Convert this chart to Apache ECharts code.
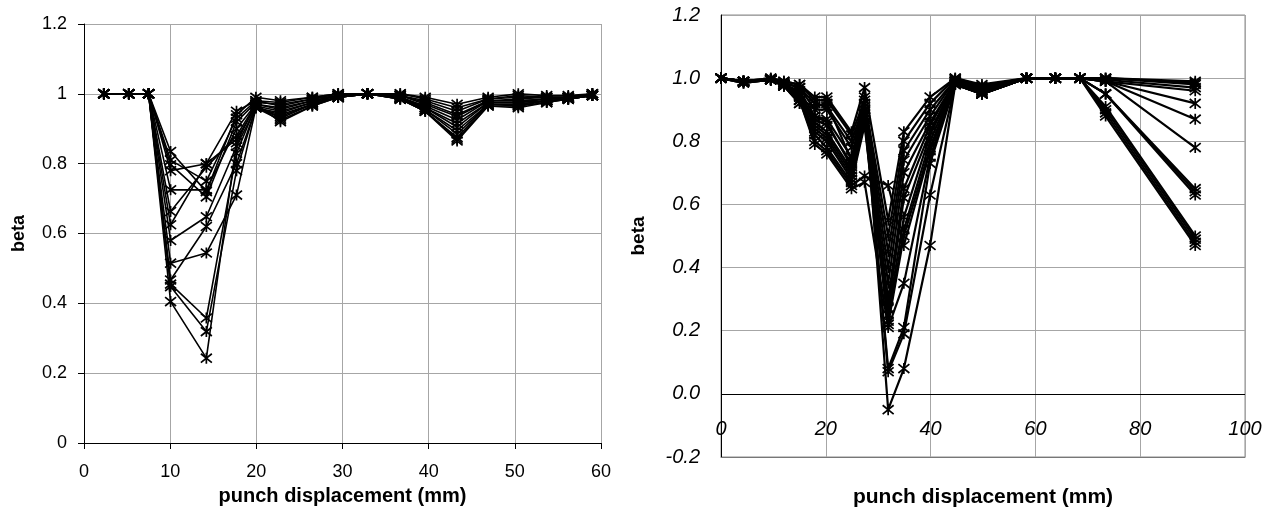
<!DOCTYPE html>
<html>
<head>
<meta charset="utf-8">
<script src="https://cdn.jsdelivr.net/npm/echarts@6/dist/echarts.min.js"></script>
<style>
html,body{margin:0;padding:0;background:#fff;}
#c{width:1279px;height:513px;}
</style>
</head>
<body>
<div id="c"></div>
<script>
// ---------- data ----------
const leftX = [2.3, 5.2, 7.5, 10.05, 14.2, 17.7, 19.95, 22.8, 26.5, 29.5, 32.9, 36.7, 39.6, 43.3, 46.9, 50.4, 53.7, 56.2, 59.0];
const L01 = [1,1,1,0.835,0.72,0.94,0.99,0.98,0.99,1.0,1.0,1.0,0.99,0.97,0.99,1.0,0.995,0.995,1.0];
const L02 = [1,1,1,0.81,0.75,0.93,0.98,0.975,0.99,1.0,1.0,1.0,0.985,0.96,0.985,0.995,0.99,0.99,1.0];
const L03 = [1,1,1,0.797,0.705,0.92,0.975,0.97,0.985,1.0,1.0,0.995,0.98,0.95,0.985,0.99,0.99,0.99,1.0];
const L04 = [1,1,1,0.78,0.80,0.95,0.98,0.965,0.985,0.995,1.0,0.995,0.975,0.94,0.98,0.985,0.99,0.99,1.0];
const L05 = [1,1,1,0.725,0.725,0.90,0.97,0.96,0.98,0.995,1.0,0.995,0.97,0.935,0.98,0.98,0.985,0.99,1.0];
const L06 = [1,1,1,0.663,0.79,0.88,0.97,0.955,0.98,0.995,1.0,0.99,0.965,0.925,0.98,0.98,0.985,0.99,0.995];
const L07 = [1,1,1,0.625,0.80,0.87,0.965,0.95,0.975,0.995,1.0,0.99,0.96,0.915,0.975,0.975,0.985,0.99,0.995];
const L08 = [1,1,1,0.58,0.648,0.85,0.96,0.945,0.975,0.99,1.0,0.99,0.96,0.905,0.975,0.975,0.98,0.985,0.995];
const L09 = [1,1,1,0.515,0.544,0.71,0.96,0.94,0.97,0.99,1.0,0.99,0.955,0.895,0.97,0.97,0.98,0.985,0.995];
const L10 = [1,1,1,0.467,0.62,0.80,0.96,0.935,0.97,0.99,1.0,0.985,0.955,0.885,0.97,0.97,0.98,0.985,0.995];
const L11 = [1,1,1,0.455,0.358,0.83,0.965,0.93,0.97,0.99,1.0,0.985,0.95,0.875,0.97,0.965,0.98,0.985,0.995];
const L12 = [1,1,1,0.448,0.319,0.78,0.96,0.925,0.965,0.99,1.0,0.985,0.95,0.87,0.965,0.965,0.975,0.985,0.995];
const L13 = [1,1,1,0.405,0.243,0.86,0.97,0.92,0.965,0.99,1.0,0.985,0.95,0.865,0.965,0.96,0.975,0.985,0.995];
const leftSeries = [L01,L02,L03,L04,L05,L06,L07,L08,L09,L10,L11,L12,L13];

const rightX = [0, 4.3, 9.5, 12, 15, 17.9, 20.2, 24.9, 27.4, 31.9, 34.9, 39.9, 44.7, 49.8, 58.3, 63.8, 68.5, 73.4, 90.5];
const R01 = [1,0.99,1,0.99,0.98,0.94,0.94,0.83,0.97,0.55,0.83,0.94,1.0,0.98,1,1,1,1.0,0.99];
const R02 = [1,0.99,1,0.99,0.98,0.93,0.93,0.82,0.93,0.50,0.80,0.92,1.0,0.975,1,1,1,1.0,0.985];
const R03 = [1,0.99,0.995,0.985,0.97,0.92,0.91,0.80,0.92,0.45,0.77,0.90,0.995,0.97,1,1,1,1.0,0.98];
const R04 = [1,0.985,0.995,0.985,0.97,0.90,0.90,0.78,0.91,0.40,0.74,0.88,0.995,0.97,1,1,1,0.995,0.97];
const R05 = [1,0.985,0.995,0.98,0.96,0.88,0.87,0.75,0.90,0.35,0.70,0.86,0.99,0.965,1,1,1,0.99,0.96];
const R06 = [1,0.985,0.995,0.98,0.95,0.87,0.85,0.73,0.89,0.30,0.65,0.85,0.99,0.96,1,1,1,0.99,0.92];
const R07 = [1,0.99,0.995,0.98,0.95,0.86,0.83,0.71,0.88,0.27,0.62,0.83,0.99,0.96,1,1,1,0.99,0.87];
const R08 = [1,0.99,0.995,0.98,0.94,0.85,0.82,0.70,0.87,0.25,0.56,0.82,0.985,0.955,1,1,1,0.99,0.78];
const R09 = [1,0.99,0.995,0.98,0.94,0.83,0.80,0.68,0.86,0.23,0.52,0.80,0.985,0.955,1,1,1,0.95,0.65];
const R10 = [1,0.99,0.995,0.98,0.93,0.82,0.78,0.67,0.85,0.22,0.50,0.78,0.985,0.95,1,1,1,0.95,0.64];
const R11 = [1,0.99,0.995,0.975,0.93,0.80,0.77,0.66,0.69,0.66,0.47,0.77,0.98,0.95,1,1,1,0.95,0.63];
const R12 = [1,0.99,0.995,0.975,0.93,0.79,0.76,0.65,0.67,0.21,0.35,0.75,0.98,0.95,1,1,1,0.91,0.50];
const R13 = [1,0.99,0.995,0.975,0.92,0.88,0.86,0.72,0.90,0.08,0.21,0.73,0.98,0.95,1,1,1,0.90,0.49];
const R14 = [1,0.99,0.995,0.975,0.92,0.84,0.81,0.69,0.88,0.07,0.19,0.63,0.98,0.95,1,1,1,0.89,0.48];
const R15 = [1,0.99,0.995,0.975,0.93,0.91,0.92,0.74,0.94,-0.05,0.08,0.47,0.98,0.95,1,1,1,0.88,0.47];
const rightSeries = [R01,R02,R03,R04,R05,R06,R07,R08,R09,R10,R11,R12,R13,R14,R15];
const rightZeroLine = 0;

// ---------- chart ----------
const FONT = 'Liberation Sans, Arial, sans-serif';
const ASTER = 'path://M1,1L9,9M9,1L1,9M5,0L5,10';

function mkSeries(xs, arr, idx, lw, ms) {
  return {
    type: 'line',
    xAxisIndex: idx, yAxisIndex: idx,
    data: xs.map((x, i) => [x, arr[i]]),
    symbol: ASTER,
    symbolSize: ms,
    showAllSymbol: true,
    lineStyle: { color: '#000', width: lw },
    itemStyle: { color: '#000', borderColor: '#000', borderWidth: 1.7 },
    emphasis: { disabled: true },
    animation: false,
    z: 3
  };
}

const series = [];
leftSeries.forEach(a => series.push(mkSeries(leftX, a, 0, 1.6, 11)));
rightSeries.forEach(a => series.push(mkSeries(rightX, a, 1, 2.2, 11)));
// zero line of the right chart (x axis crosses at beta = 0)
series[series.length - 1].markLine = {
  silent: true, symbol: ['none', 'none'], animation: false,
  label: { show: false },
  lineStyle: { color: '#000', width: 1, type: 'solid' },
  data: [{ yAxis: rightZeroLine }]
};

const chart = echarts.init(document.getElementById('c'), null, { renderer: 'canvas' });
chart.setOption({
  backgroundColor: '#fff',
  animation: false,
  textStyle: { fontFamily: FONT },
  grid: [
    { left: 84, top: 24, width: 517, height: 419, containLabel: false, outerBoundsMode: 'none' },
    { left: 721, top: 15, width: 524, height: 442, containLabel: false, outerBoundsMode: 'none',
      show: true, borderColor: '#8c8c8c', borderWidth: 1 }
  ],
  xAxis: [
    {
      gridIndex: 0, type: 'value', min: 0, max: 60, interval: 10,
      axisLine: { onZero: false, lineStyle: { color: '#000', width: 1 } },
      axisTick: { show: true, length: 6, lineStyle: { color: '#000' } },
      axisLabel: { color: '#000', fontSize: 18, margin: 20, fontFamily: FONT },
      splitLine: { show: true, lineStyle: { color: '#a6a6a6', width: 1 } },
      name: 'punch displacement (mm)', nameLocation: 'middle', nameGap: 43,
      nameTextStyle: { color: '#000', fontWeight: 'bold', fontSize: 20, fontFamily: FONT }
    },
    {
      gridIndex: 1, type: 'value', min: 0, max: 100, interval: 20,
      axisLine: { show: true, onZero: false, lineStyle: { color: '#777', width: 1 } },
      axisTick: { show: false },
      axisLabel: { color: '#000', fontSize: 20, fontStyle: 'italic', margin: -38, fontFamily: FONT },
      splitLine: { show: true, lineStyle: { color: '#a6a6a6', width: 1 } },
      name: 'punch displacement (mm)', nameLocation: 'middle', nameGap: 30,
      nameTextStyle: { color: '#000', fontWeight: 'bold', fontSize: 21, fontFamily: FONT }
    }
  ],
  yAxis: [
    {
      gridIndex: 0, type: 'value', min: 0, max: 1.2, interval: 0.2,
      axisLine: { show: true, onZero: false, lineStyle: { color: '#000', width: 1 } },
      axisTick: { show: true, length: 6, lineStyle: { color: '#000' } },
      axisLabel: { color: '#000', fontSize: 18, margin: 17, fontFamily: FONT },
      splitLine: { show: true, lineStyle: { color: '#a6a6a6', width: 1 } },
      name: 'beta', nameLocation: 'middle', nameGap: 56, nameRotate: 90,
      nameTextStyle: { color: '#000', fontWeight: 'bold', fontSize: 18, fontFamily: FONT }
    },
    {
      gridIndex: 1, type: 'value', min: -0.2, max: 1.2, interval: 0.2,
      axisLine: { show: true, onZero: false, lineStyle: { color: '#000', width: 1 } },
      axisTick: { show: false },
      axisLabel: { color: '#000', fontSize: 20, fontStyle: 'italic', margin: 21, fontFamily: FONT,
        formatter: v => v.toFixed(1) },
      splitLine: { show: true, lineStyle: { color: '#a6a6a6', width: 1 } },
      name: 'beta', nameLocation: 'middle', nameGap: 73, nameRotate: 90,
      nameTextStyle: { color: '#000', fontWeight: 'bold', fontSize: 19, fontFamily: FONT }
    }
  ],
  series: series
});
</script>
</body>
</html>
